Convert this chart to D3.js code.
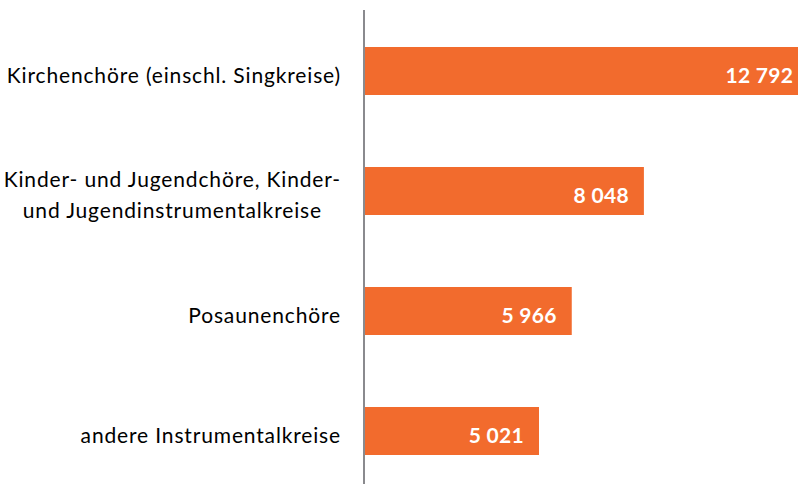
<!DOCTYPE html>
<html><head><meta charset="utf-8">
<script src="https://cdn.jsdelivr.net/npm/d3@7"></script>
<style>body{margin:0;background:#fff}svg{display:block}</style>
</head><body>
<svg id="c" width="798" height="484"></svg>
<script>
const categories = [
  ["Kirchenchöre (einschl. Singkreise)"],
  ["Kinder- und Jugendchöre, Kinder-", "und Jugendinstrumentalkreise"],
  ["Posaunenchöre"],
  ["andere Instrumentalkreise"]
];
const values = [12792, 8048, 5966, 5021];
const valueLabels = ["12 792", "8 048", "5 966", "5 021"];

const svg = d3.select("#c");
const x0 = 365;
const x = d3.scaleLinear().domain([0, 5021]).range([x0, 539]);
const y = d3.scaleBand().domain(d3.range(values.length)).range([11, 491])
  .paddingInner(0.6).paddingOuter(0.3);

svg.selectAll("rect.bar").data(values).join("rect")
  .attr("class", "bar")
  .attr("x", x0)
  .attr("y", (d, i) => y(i))
  .attr("width", d => x(d) - x0)
  .attr("height", y.bandwidth())
  .attr("fill", "#F26B2D");

svg.append("line").attr("x1", 364).attr("x2", 364).attr("y1", 10).attr("y2", 484)
  .attr("stroke", "#8a8a8e").attr("stroke-width", 2);

svg.selectAll("text.val").data(values).join("text")
  .attr("class", "val")
  .attr("x", d => x(d) - 15)
  .attr("y", (d, i) => y(i) + y.bandwidth() / 2 + 11.5)
  .attr("text-anchor", "end")
  .attr("fill", "#fff")
  .attr("font-family", "Lato")
  .attr("font-weight", "bold")
  .attr("font-size", 21)
  .attr("letter-spacing", 0.3)
  .text((d, i) => valueLabels[i]);

const labelRight = 341;
const lh = 31.5;
categories.forEach((lines, i) => {
  const g = svg.append("g");
  const cy = y(i) + y.bandwidth() / 2;
  const texts = lines.map((t, j) => g.append("text")
    .attr("y", cy + 11.5 + (j - (lines.length - 1) / 2) * lh)
    .attr("font-family", "Lato")
    .attr("font-size", 21)
    .attr("letter-spacing", 0.85)
    .attr("fill", "#000")
    .attr("text-anchor", "middle")
    .text(t));
  const w = d3.max(texts, t => t.node().getComputedTextLength());
  texts.forEach(t => t.attr("x", labelRight - w / 2));
});
</script>
</body></html>
